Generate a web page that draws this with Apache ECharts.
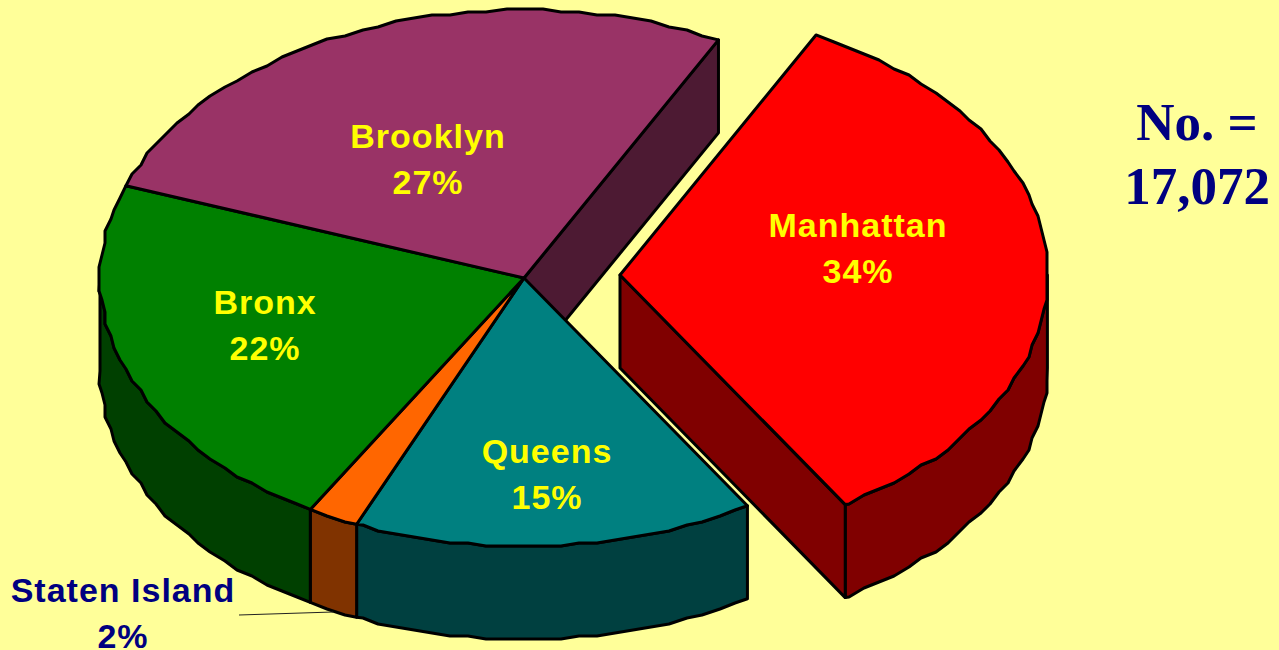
<!DOCTYPE html>
<html>
<head>
<meta charset="utf-8">
<script src="https://cdn.jsdelivr.net/npm/echarts@6/dist/echarts.min.js"></script>
<style>
html,body{margin:0;padding:0;background:#ffff99}
#c{width:1279px;height:650px}
#c text[style*="Liberation Sans"]{letter-spacing:1px}
</style>
</head>
<body>
<div id="c"></div>
<script>
var categories = ['Manhattan', 'Queens', 'Staten Island', 'Bronx', 'Brooklyn'];
var shares = [33.6, 15.3, 1.95, 22.2, 27];
var totalLabel = 'No. =\n17,072';

var topColors = ['#ff0000', '#008080', '#ff6600', '#008000', '#993366'];
var wallColors = ['#800000', '#004040', '#803300', '#004000', '#4d1a33'];
var labelColors = ['#ffff00', '#ffff00', '#000080', '#ffff00', '#ffff00'];
var labelCentres = [[858, 248], [547, 474], [123, 613], [265, 325], [428, 159]];
var explode = [[96, -3], [0, 0], [0, 0], [0, 0], [0, 0]];
var radiusScale = [1.008, 1, 1, 1, 1];
var centre = [524, 278], rx = 424, ry = 268, depth = 93, startDeg = 27.3, snap = 3, stepDeg = 2.5;

var total = shares.reduce(function (a, b) { return a + b; }, 0);
function range(i) {
  var before = 0;
  for (var k = 0; k < i; k++) before += shares[k];
  return [startDeg + before / total * 360, startDeg + (before + shares[i]) / total * 360];
}
function pt(i, deg, dy, rough) {
  var t = deg * Math.PI / 180;
  var x = centre[0] + explode[i][0] + rx * radiusScale[i] * Math.sin(t);
  var y = centre[1] + explode[i][1] - ry * radiusScale[i] * Math.cos(t);
  if (rough) { x = Math.round(x / snap) * snap; y = Math.round(y / snap) * snap; }
  return [x, y + (dy || 0)];
}
function arc(i, a, b, dy) {
  var lo = Math.min(a, b), hi = Math.max(a, b), pts = [pt(i, lo, dy, false)];
  for (var d = Math.ceil((lo + 0.5) / stepDeg) * stepDeg; d < hi - 0.5; d += stepDeg) pts.push(pt(i, d, dy, true));
  pts.push(pt(i, hi, dy, false));
  return a <= b ? pts : pts.reverse();
}
function apex(i, dy) {
  return [centre[0] + explode[i][0], centre[1] + explode[i][1] + (dy || 0)];
}
var edge = { stroke: '#000', lineWidth: 3, lineJoin: 'round' };
function poly(points, fill) {
  return { type: 'polygon', shape: { points: points }, style: Object.assign({ fill: fill }, edge) };
}

function renderWalls(params) {
  var i = params.dataIndex, r = range(i), kids = [];
  var a = r[0], b = r[1], end = ((b % 360) + 360) % 360;
  // side of the disc, only the half that faces the viewer
  var lo = Math.max(a, 90), hi = Math.min(b, 270);
  if (hi > lo) {
    kids.push(poly(arc(i, lo, hi, 0).concat(arc(i, hi, lo, depth)), wallColors[i]));
  }
  // cut face at the clockwise end of a slice, where it faces the viewer
  if (end > 0 && end < 180) {
    var p = pt(i, b, 0), q = pt(i, b, depth);
    kids.push(poly([apex(i), p, q, apex(i, depth)], wallColors[i]));
  }
  return { type: 'group', children: kids };
}
function renderTops(params) {
  var i = params.dataIndex, r = range(i);
  return { type: 'group', children: [poly([apex(i)].concat(arc(i, r[0], r[1], 0)), topColors[i])] };
}
function lineText(x, y, text, color) {
  return {
    type: 'text',
    style: {
      x: x, y: y, text: text, fill: color, font: 'bold 34px "Liberation Sans"',
      align: 'center', verticalAlign: 'middle', lineHeight: 26
    }
  };
}
function renderLabels(params, api) {
  var i = params.dataIndex, c = labelCentres[i];
  var kids = [
    lineText(c[0], c[1] - 23, categories[i], labelColors[i]),
    lineText(c[0], c[1] + 23, Math.round(api.value(0)) + '%', labelColors[i])
  ];
  if (categories[i] === 'Staten Island') {
    kids.push({ type: 'line', shape: { x1: 239, y1: 615, x2: 333, y2: 612 }, style: { stroke: '#222', lineWidth: 1 } });
  }
  return { type: 'group', children: kids };
}

var rows = shares.map(function (v) { return [v]; });
var chart = echarts.init(document.getElementById('c'), null, { renderer: 'svg' });
chart.setOption({
  backgroundColor: '#ffff99',
  animation: false,
  title: {
    text: totalLabel, left: 1192, top: 85, textAlign: 'center',
    textStyle: { fontFamily: 'Liberation Serif', fontWeight: 'bold', fontSize: 53, lineHeight: 64, color: '#000080' }
  },
  series: [
    { type: 'custom', coordinateSystem: 'none', data: rows, renderItem: renderWalls, z: 1, silent: true },
    { type: 'custom', coordinateSystem: 'none', data: rows, renderItem: renderTops, z: 2, silent: true },
    { type: 'custom', coordinateSystem: 'none', data: rows, renderItem: renderLabels, z: 3, silent: true }
  ]
});
</script>
</body>
</html>
